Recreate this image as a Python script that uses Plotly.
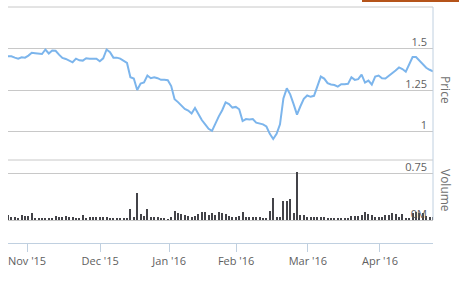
import plotly.graph_objects as go

# Trading-day index (ordinal axis, like Highstock)
price = [1.453, 1.453, 1.445, 1.439, 1.447, 1.445, 1.457, 1.474, 1.472, 1.470,
         1.467, 1.494, 1.470, 1.488, 1.486, 1.463, 1.443, 1.437, 1.427, 1.417,
         1.439, 1.429, 1.427, 1.441, 1.439, 1.437, 1.439, 1.423, 1.441, 1.494,
         1.478, 1.445, 1.445, 1.439, 1.425, 1.413, 1.327, 1.319, 1.250, 1.289,
         1.295, 1.337, 1.321, 1.327, 1.321, 1.311, 1.311, 1.309, 1.274, 1.195,
         1.177, 1.157, 1.136, 1.126, 1.108, 1.142, 1.104, 1.069, 1.043, 1.016,
         1.004, 1.051, 1.091, 1.128, 1.175, 1.165, 1.144, 1.148, 1.134, 1.063,
         1.075, 1.073, 1.075, 1.053, 1.047, 1.043, 1.030, 0.986, 0.955, 0.986,
         1.043, 1.199, 1.260, 1.224, 1.165, 1.102, 1.152, 1.197, 1.217, 1.209,
         1.215, 1.274, 1.331, 1.319, 1.291, 1.283, 1.280, 1.270, 1.285, 1.285,
         1.287, 1.327, 1.311, 1.315, 1.343, 1.295, 1.307, 1.283, 1.331, 1.337,
         1.321, 1.319, 1.335, 1.348, 1.368, 1.386, 1.376, 1.360, 1.402, 1.449,
         1.449, 1.429, 1.404, 1.384, 1.372, 1.362]

# Volume (thousands of shares)
volume = [85, 55, 50, 30, 85, 65, 60, 115, 40, 25,
          30, 30, 30, 30, 65, 50, 50, 65, 45, 50,
          30, 30, 85, 30, 45, 55, 55, 55, 50, 50,
          30, 35, 35, 40, 30, 40, 185, 55, 445, 95,
          65, 180, 55, 45, 50, 30, 40, 15, 50, 155,
          120, 95, 85, 70, 55, 70, 100, 140, 140, 85,
          110, 85, 130, 120, 95, 65, 45, 45, 70, 140,
          45, 45, 55, 55, 45, 30, 30, 155, 360, 55,
          55, 315, 315, 345, 110, 805, 85, 80, 55, 55,
          45, 55, 45, 45, 30, 30, 40, 40, 40, 30,
          30, 65, 65, 65, 85, 140, 100, 85, 45, 45,
          45, 85, 85, 120, 100, 45, 100, 30, 35, 120,
          140, 120, 115, 65, 45, 45]

idx = list(range(len(price)))

month_tick_pos = [5.6, 27.1, 47.4, 67.1, 88.2, 109.4]
month_tick_text = ["Nov '15", "Dec '15", "Jan '16", "Feb '16", "Mar '16", "Apr '16"]

price_ticks = [0.75, 1.0, 1.25, 1.5]
price_tick_text = ["0.75", "1", "1.25", "1.5"]
price_top_grid = 1.75          # gridline whose label is hidden under the top edge
vol_ticks = [0]
vol_tick_text = ["0M"]
vol_top_grid = 1000            # unlabeled gridline at the top of the volume pane

FONT = "Open Sans"
LABEL = "#606060"
AXIS = "#C0D0E0"
GRID = "#C8C8C8"

# plot area: y from 3 (top) to 243 (bottom), height 240 px
TOP = 3
H = 243 - TOP

def py(pix):
    return (243 - pix) / H

fig = go.Figure()
fig.add_trace(go.Scatter(x=idx, y=price, mode="lines",
                         line=dict(color="#7cb5ec", width=2), yaxis="y",
                         hoverinfo="skip"))
fig.add_trace(go.Bar(x=idx, y=volume, width=0.6, marker=dict(color="#434348", line=dict(width=0)),
                     yaxis="y2", hoverinfo="skip"))

fig.update_layout(
    width=459, height=281,
    margin=dict(l=8, r=26, t=TOP, b=38, autoexpand=False),
    paper_bgcolor="white", plot_bgcolor="rgba(0,0,0,0)",
    showlegend=False,
    font=dict(family=FONT, size=11, color=LABEL),
    xaxis=dict(range=[0, len(price) - 1], anchor="free", position=0,
               tickvals=month_tick_pos, ticktext=month_tick_text,
               showgrid=False, zeroline=False, automargin=False,
               showline=True, linecolor=AXIS, linewidth=1,
               ticks="outside", ticklen=8, tickcolor=AXIS, tickwidth=1,
               tickfont=dict(family=FONT, size=11, color=LABEL)),
    yaxis=dict(domain=[py(181), 1.0], range=[0.75 - 8 / 166, 1.75 + 4 / 166], side="right",
               tickvals=price_ticks, ticktext=price_tick_text,
               ticklabelposition="inside", ticklabelshift=-6, ticklabelstandoff=3,
               ticklabeloverflow="allow", automargin=False,
               showgrid=True, gridcolor=GRID, gridwidth=1, zeroline=False,
               showline=False, anchor="x",
               tickfont=dict(family=FONT, size=11, color=LABEL)),
    yaxis2=dict(domain=[py(225), py(155)], range=[-83.3, 1083.3], side="right",
                tickvals=vol_ticks, ticktext=vol_tick_text,
                ticklabelposition="inside", ticklabelshift=-6, ticklabelstandoff=3,
                ticklabeloverflow="allow", automargin=False,
                showgrid=True, gridcolor=GRID, gridwidth=1, zeroline=False,
                showline=False, anchor="x",
                tickfont=dict(family=FONT, size=11, color=LABEL)),
    bargap=0,
)

# unlabeled gridlines
fig.add_shape(type="line", xref="paper", yref="y", x0=0, x1=1,
              y0=price_top_grid, y1=price_top_grid,
              line=dict(color=GRID, width=1), layer="below")
fig.add_shape(type="line", xref="paper", yref="y2", x0=0, x1=1,
              y0=vol_top_grid, y1=vol_top_grid,
              line=dict(color=GRID, width=1), layer="below")

# right-hand axis line (price + volume panes)
fig.add_shape(type="line", xref="paper", yref="paper",
              x0=1, x1=1, y0=py(220), y1=py(7),
              line=dict(color=AXIS, width=1), layer="above")

fig.add_annotation(text="Price", x=1.0306, y=py(90), xref="paper", yref="paper",
                   xanchor="center", yanchor="middle",
                   textangle=90, showarrow=False,
                   font=dict(family=FONT, size=12, color="#707070"))
fig.add_annotation(text="Volume", x=1.0306, y=py(190), xref="paper", yref="paper",
                   xanchor="center", yanchor="middle",
                   textangle=90, showarrow=False,
                   font=dict(family=FONT, size=12, color="#707070"))

# orange strip at the top right edge
fig.add_shape(type="rect", xref="paper", yref="paper",
              x0=(362 - 8) / 425, x1=(462 - 8) / 425,
              y0=py(2), y1=py(-2),
              fillcolor="#B5541A", line=dict(width=0), layer="above")

fig.write_html("out.html")
